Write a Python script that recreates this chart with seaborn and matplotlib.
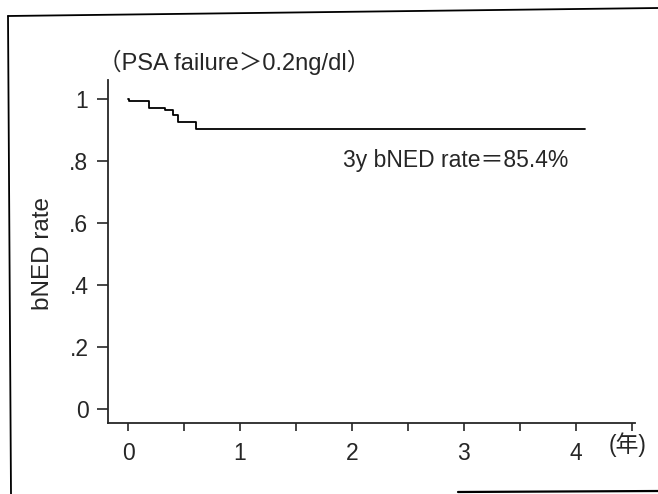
import numpy as np
import pandas as pd
import matplotlib
matplotlib.use("Agg")
import matplotlib.pyplot as plt
import seaborn as sns
from matplotlib.lines import Line2D

# Kaplan-Meier step values
years = [0.0, 0.01, 0.19, 0.33, 0.40, 0.45, 0.61, 4.08]
bned = [1.0, 0.994, 0.971, 0.962, 0.948, 0.924, 0.903, 0.903]

xticks = [0, 1, 2, 3, 4]
yticks = [0, 0.2, 0.4, 0.6, 0.8, 1.0]
ytick_labels = ["0", ".2", ".4", ".6", ".8", "1"]

title_text = "（PSA failure＞0.2ng/dl）"
note_text = "3y bNED rate＝85.4%"
unit_text = "(年)"

sns.set_style("ticks")
plt.rcParams['font.family'] = ['Liberation Sans', 'Noto Sans CJK JP']

df = pd.DataFrame({"year": years, "bned": bned})

fig = plt.figure(figsize=(6.58, 4.94), dpi=100)
ax = fig.add_axes([0.164, 0.1437, 0.801, 0.6943])

sns.lineplot(data=df, x="year", y="bned", estimator=None, sort=False,
             drawstyle="steps-post", color="black", linewidth=1.3, ax=ax)

ax.set_xlim(-0.18, 4.53)
ax.set_ylim(-0.045, 1.06)
ax.set_xticks(xticks)
ax.set_xticks(np.arange(0.5, 4.6, 1.0), minor=True)
ax.set_yticks(yticks)
ax.set_yticklabels(ytick_labels)
ax.tick_params(axis="x", which="both", length=6, width=1.2, pad=8, labelsize=16.5)
ax.tick_params(axis="y", length=8, width=1.2, pad=6, labelsize=16.5)
ax.set_xlabel("")
ax.set_ylabel("")
sns.despine(ax=ax)
for s in ["left", "bottom"]:
    ax.spines[s].set_linewidth(1.3)

# texts
fig.text(98 / 658, 1 - 62 / 494, title_text, fontsize=17, ha="left", va="center")
fig.text(343 / 658, 1 - 160 / 494, note_text, fontsize=16.5, ha="left", va="center")
fig.text(628 / 658, 1 - 445 / 494, unit_text, fontsize=16.5, ha="center", va="center")
fig.text(43 / 658, 1 - 253 / 494, "bNED rate", fontsize=17.5, rotation=90,
         ha="center", va="center")

# outer frame from the scanned page
fig.add_artist(Line2D([8 / 658, 658 / 658], [1 - 16 / 494, 1 - 8 / 494],
                      color="black", linewidth=1.3, transform=fig.transFigure))
fig.add_artist(Line2D([8 / 658, 11 / 658], [1 - 16 / 494, 0.0],
                      color="black", linewidth=1.3, transform=fig.transFigure))
fig.add_artist(Line2D([458 / 658, 658 / 658], [1 - 492 / 494, 1 - 491 / 494],
                      color="black", linewidth=1.6, transform=fig.transFigure))

fig.savefig("out.png", dpi=100)
plt.close(fig)
